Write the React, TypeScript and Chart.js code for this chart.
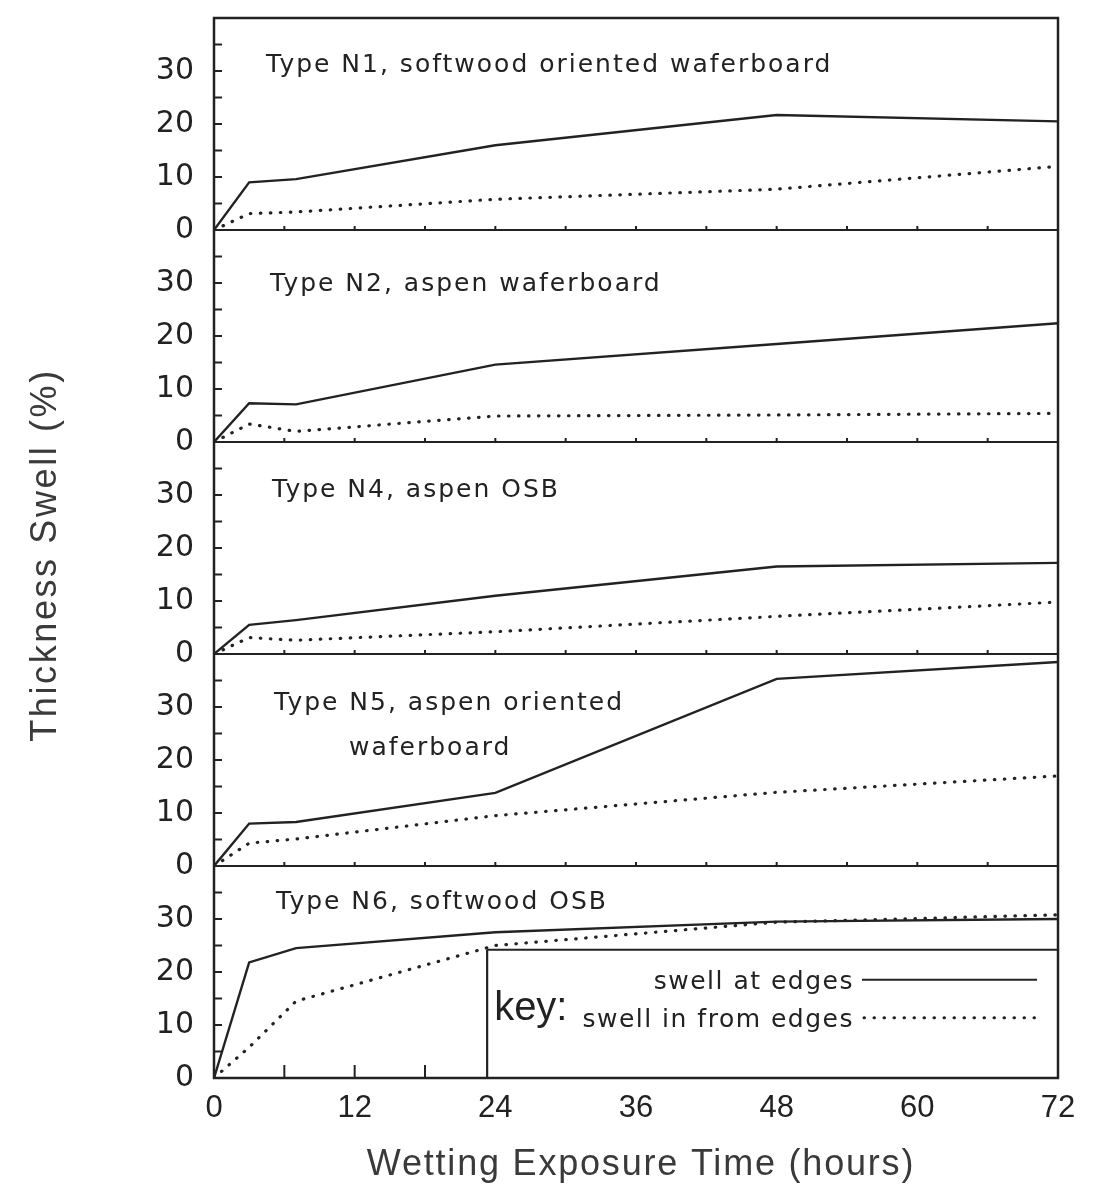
import React, { useEffect, useRef } from "react";
import { Chart, registerables } from "chart.js";

Chart.register(...registerables);

// ---------- data ----------
const HOURS = [0, 3, 7, 24, 48, 72];
const X_TICKS = [0, 12, 24, 36, 48, 60, 72];

const N1_EDGE = [0, 9.0, 9.6, 16.0, 21.7, 20.5];
const N1_IN = [0, 3.1, 3.4, 5.8, 7.7, 12.0];
const N2_EDGE = [0, 7.3, 7.1, 14.6, 18.5, 22.4];
const N2_IN = [0, 3.4, 2.0, 4.9, 5.1, 5.4];
const N4_EDGE = [0, 5.5, 6.4, 11.0, 16.5, 17.2];
const N4_IN = [0, 3.1, 2.6, 4.2, 7.1, 9.8];
const N5_EDGE = [0, 8.0, 8.3, 13.8, 35.3, 38.5];
const N5_IN = [0, 4.3, 5.1, 9.5, 13.9, 17.0];
const N6_EDGE = [0, 21.8, 24.5, 27.5, 29.5, 30.0];
const N6_IN = [0, 5.8, 14.5, 25.0, 29.4, 30.8];

const PANEL_TITLES = [
  ["Type N1, softwood oriented waferboard"],
  ["Type N2, aspen waferboard"],
  ["Type N4, aspen OSB"],
  ["Type N5, aspen oriented", "waferboard"],
  ["Type N6, softwood OSB"],
];
const PANEL_EDGE = [N1_EDGE, N2_EDGE, N4_EDGE, N5_EDGE, N6_EDGE];
const PANEL_IN = [N1_IN, N2_IN, N4_IN, N5_IN, N6_IN];

const KEY_LABELS = ["swell at edges", "swell in from edges"];
const X_TITLE = "Wetting Exposure Time (hours)";
const Y_TITLE = "Thickness Swell (%)";

// ---------- layout / style ----------
const INK = "#222222";
const TITLE_POS = [
  [{ dx: 52, v: 31.0 }],
  [{ dx: 56, v: 29.7 }],
  [{ dx: 58, v: 30.8 }],
  [{ dx: 60, v: 30.6 }, { dx: 135, v: 22.2 }],
  [{ dx: 62, v: 33.1 }],
];
const KEY_BOX = { x0: 23.3, top: 24.2 };

const toXY = (vals: number[]) => vals.map((v, i) => ({ x: HOURS[i], y: v }));

const panelsPlugin = {
  id: "panels",
  afterDatasetsDraw(chart: any) {
    const { ctx, chartArea: ca, scales } = chart;
    const xs = scales.x;
    ctx.save();
    ctx.strokeStyle = INK;
    ctx.fillStyle = INK;
    ctx.lineCap = "butt";
    const line = (x1: number, y1: number, x2: number, y2: number, w = 2) => {
      ctx.lineWidth = w;
      ctx.beginPath();
      ctx.moveTo(x1, y1);
      ctx.lineTo(x2, y2);
      ctx.stroke();
    };
    PANEL_TITLES.forEach((lines, i) => {
      const ys = scales["y" + i];
      const y0 = ys.getPixelForValue(0);
      line(ca.left, y0, ca.right, y0, 2.2);
      const last = i === PANEL_TITLES.length - 1;
      for (let h = 6; h < 72; h += 6) {
        const x = xs.getPixelForValue(h);
        line(x, y0, x, y0 - (last ? 13 : 4), 2);
      }
      for (let v = 5; v < 40; v += 5) {
        const y = ys.getPixelForValue(v);
        line(ca.left, y, ca.left + 8, y, 2);
      }
      ctx.font = "25px 'DejaVu Sans'";
      (ctx as any).letterSpacing = "2px";
      ctx.textAlign = "left";
      ctx.textBaseline = "middle";
      lines.forEach((t, j) => {
        const p = TITLE_POS[i][j];
        ctx.fillText(t, ca.left + p.dx, ys.getPixelForValue(p.v));
      });
      (ctx as any).letterSpacing = "0px";
    });
    // key box in bottom panel
    const yb = scales["y4"];
    const kx = xs.getPixelForValue(KEY_BOX.x0);
    const ky = yb.getPixelForValue(KEY_BOX.top);
    const kb = yb.getPixelForValue(0);
    ctx.fillStyle = "#fff";
    ctx.fillRect(kx, ky, ca.right - kx, kb - ky);
    ctx.fillStyle = INK;
    line(kx, kb, kx, ky, 2.2);
    line(kx, ky, ca.right, ky, 2.2);
    ctx.font = "40px 'Liberation Sans'";
    ctx.textAlign = "left";
    ctx.textBaseline = "alphabetic";
    ctx.fillText("key:", kx + 7, ky + 70);
    ctx.font = "25px 'DejaVu Sans'";
    (ctx as any).letterSpacing = "1.5px";
    ctx.textAlign = "right";
    ctx.textBaseline = "middle";
    const lx1 = ca.right - 196;
    const lx2 = ca.right - 21;
    const r1 = ky + 33;
    const r2 = ky + 71;
    ctx.fillText(KEY_LABELS[0], lx1 - 8, r1);
    ctx.fillText(KEY_LABELS[1], lx1 - 8, r2);
    (ctx as any).letterSpacing = "0px";
    line(lx1, r1 - 3, lx2, r1 - 3, 2);
    ctx.lineWidth = 3;
    ctx.lineCap = "round";
    ctx.setLineDash([0.5, 9.5]);
    ctx.beginPath();
    ctx.moveTo(lx1 + 2, r2 - 3);
    ctx.lineTo(lx2, r2 - 3);
    ctx.stroke();
    ctx.setLineDash([]);
    ctx.lineCap = "butt";
    // frame
    ctx.lineWidth = 2.5;
    ctx.strokeRect(ca.left, ca.top, ca.right - ca.left, ca.bottom - ca.top);
    // axis titles
    ctx.fillStyle = "#3a3a3a";
    ctx.font = "36px 'Liberation Sans'";
    ctx.textAlign = "center";
    ctx.textBaseline = "middle";
    (ctx as any).letterSpacing = "1.8px";
    ctx.fillText(X_TITLE, 641, 1165);
    (ctx as any).letterSpacing = "2.6px";
    ctx.save();
    ctx.translate(46, 555);
    ctx.rotate(-Math.PI / 2);
    ctx.fillText(Y_TITLE, 0, 0);
    ctx.restore();
    (ctx as any).letterSpacing = "0px";
    ctx.restore();
  },
};

export default function App() {
  const ref = useRef<HTMLCanvasElement>(null);
  useEffect(() => {
    if (!ref.current) return;
    const datasets: any[] = [];
    PANEL_EDGE.forEach((vals, i) => {
      datasets.push({
        label: "edge" + i,
        data: toXY(vals),
        yAxisID: "y" + i,
        borderColor: INK,
        borderWidth: 2.4,
        pointRadius: 0,
        tension: 0,
        fill: false,
      });
      datasets.push({
        label: "in" + i,
        data: toXY(PANEL_IN[i]),
        yAxisID: "y" + i,
        borderColor: INK,
        borderWidth: 3.2,
        borderDash: [0.5, 9.5],
        borderCapStyle: "round",
        pointRadius: 0,
        tension: 0,
        fill: false,
      });
    });
    const scales: any = {
      x: {
        type: "linear",
        min: 0,
        max: 72,
        grid: { display: false, drawTicks: false },
        border: { display: false },
        afterBuildTicks: (s: any) => {
          s.ticks = X_TICKS.map((v) => ({ value: v }));
        },
        ticks: {
          color: INK,
          font: { family: "'Liberation Sans'", size: 31 },
          padding: 12,
          autoSkip: false,
          maxRotation: 0,
        },
        afterFit: (s: any) => {
          s.height = 111;
          s.paddingLeft = 0;
          s.paddingRight = 0;
        },
      },
    };
    PANEL_TITLES.forEach((_, i) => {
      scales["y" + i] = {
        type: "linear",
        position: "left",
        stack: "panels",
        stackWeight: 1,
        weight: PANEL_TITLES.length - i,
        min: 0,
        max: 40,
        grid: { display: false, drawTicks: false },
        border: { display: false },
        ticks: {
          stepSize: 10,
          color: INK,
          font: { family: "'DejaVu Sans'", size: 30 },
          padding: 20,
          autoSkip: false,
          callback: (v: number) => (v < 40 ? String(v) : ""),
        },
        afterFit: (s: any) => {
          s.width = 214;
          s.paddingTop = 0;
          s.paddingBottom = 0;
        },
      };
    });
    const chart = new Chart(ref.current, {
      type: "line",
      data: { datasets },
      options: {
        animation: false,
        responsive: false,
        devicePixelRatio: 1,
        layout: { padding: { left: 0, right: 43, top: 18, bottom: 0 } },
        plugins: { legend: { display: false }, tooltip: { enabled: false } },
        scales,
      },
      plugins: [panelsPlugin],
    } as any);
    return () => chart.destroy();
  }, []);
  return (
    <div style={{ position: "absolute", left: 0, top: 0, width: 1101, height: 1189, background: "#fff" }}>
      <canvas ref={ref} width={1101} height={1189} />
    </div>
  );
}
